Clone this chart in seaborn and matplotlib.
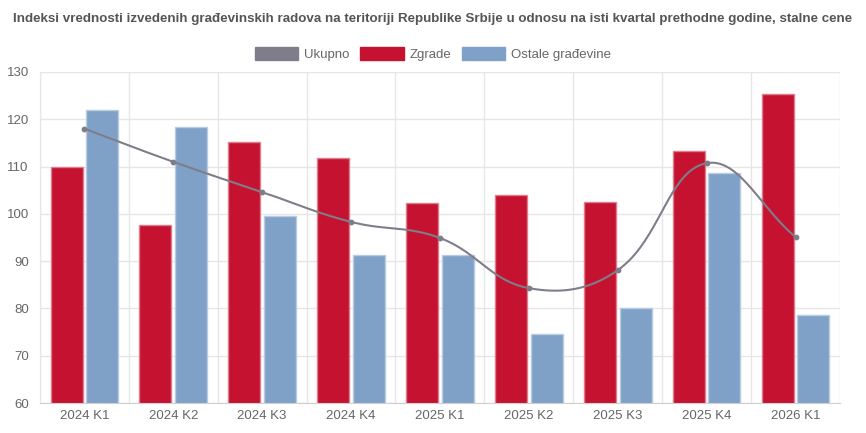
import numpy as np
import pandas as pd
import matplotlib as mpl
mpl.use('Agg')
from matplotlib import pyplot as plt
from matplotlib.ticker import MultipleLocator, FixedLocator
from matplotlib.patches import Patch
from matplotlib.colors import to_rgb
import seaborn as sns

categories = ["2024 K1", "2024 K2", "2024 K3", "2024 K4", "2025 K1",
              "2025 K2", "2025 K3", "2025 K4", "2026 K1"]
ukupno = [118.0, 111.0, 104.6, 98.3, 94.9, 84.3, 88.1, 110.7, 95.1]
zgrade = [110.0, 97.7, 115.2, 111.8, 102.3, 104.0, 102.6, 113.3, 125.3]
ostale = [122.0, 118.3, 99.6, 91.4, 91.2, 74.7, 80.1, 108.7, 78.6]
series_names = ["Ukupno", "Zgrade", "Ostale građevine"]

c_line = "#807D8A"
c_red = "#C41230"
c_blue = "#7FA1C8"
txt = "#666666"
gridc = "#E6E6E6"

sns.set_style("white")
plt.rcParams['font.family'] = ['Liberation Sans', 'DejaVu Sans']

df = pd.DataFrame({
    "kvartal": categories * 2,
    "vrednost": zgrade + ostale,
    "serija": [series_names[1]] * len(categories) + [series_names[2]] * len(categories),
})

fig = plt.figure(figsize=(8.66, 4.33), dpi=100)
ax = fig.add_axes([0.046, 0.069, 0.924, 0.765])

sns.barplot(data=df, x="kvartal", y="vrednost", hue="serija",
            palette=[c_red, c_blue], width=0.8, gap=0.1, ax=ax,
            legend=False, saturation=1, bottom=0)

# lighter outline on the bars
for p in ax.patches:
    fc = np.array(to_rgb(p.get_facecolor()))
    p.set_edgecolor(tuple(fc + (1 - fc) * 0.45))
    p.set_linewidth(1.0)

# smooth line (bezier with tension, like the web chart)
xs = np.arange(len(categories), dtype=float)
ys = np.array(ukupno)
sx, sy = 88.9, 4.73
tension = 0.4
n = len(xs)
cps = []
for i in range(n):
    px, py = (xs[i - 1], ys[i - 1]) if i > 0 else (xs[i], ys[i])
    nx, ny = (xs[i + 1], ys[i + 1]) if i < n - 1 else (xs[i], ys[i])
    d01 = np.hypot((xs[i] - px) * sx, (ys[i] - py) * sy)
    d12 = np.hypot((nx - xs[i]) * sx, (ny - ys[i]) * sy)
    tot = d01 + d12 if d01 + d12 > 0 else 1
    fa = tension * d01 / tot
    fb = tension * d12 / tot
    prev_cp = (xs[i] - fa * (nx - px), ys[i] - fa * (ny - py))
    next_cp = (xs[i] + fb * (nx - px), ys[i] + fb * (ny - py))
    cps.append((prev_cp, next_cp))
cx, cy = [], []
t = np.linspace(0, 1, 40)
for i in range(n - 1):
    p0 = np.array([xs[i], ys[i]])
    p1 = np.array(cps[i][1])
    p2 = np.array(cps[i + 1][0])
    p3 = np.array([xs[i + 1], ys[i + 1]])
    seg = ((1 - t)[:, None] ** 3 * p0 + 3 * ((1 - t) ** 2 * t)[:, None] * p1
           + 3 * ((1 - t) * t ** 2)[:, None] * p2 + (t ** 3)[:, None] * p3)
    cx.extend(seg[:, 0])
    cy.extend(seg[:, 1])
ax.plot(cx, cy, color=c_line, lw=1.5, zorder=5)
ax.scatter(xs, ys, s=10, color=c_line, zorder=6)

ax.set_ylim(60, 130)
ax.set_xlim(-0.5, len(categories) - 0.5)
ax.yaxis.set_major_locator(MultipleLocator(10))
ax.xaxis.set_minor_locator(FixedLocator(np.arange(-0.5, len(categories), 1)))
ax.grid(axis='y', which='major', color=gridc, lw=1)
ax.grid(axis='x', which='minor', color=gridc, lw=1)
ax.set_axisbelow(True)
ax.tick_params(axis='y', which='major', length=6, color=gridc, labelcolor=txt, labelsize=9.5, pad=2)
ax.tick_params(axis='x', which='major', length=0, labelcolor=txt, labelsize=9.5, pad=5)
ax.tick_params(axis='x', which='minor', length=7, color=gridc)
ax.set_xlabel("")
ax.set_ylabel("")
for s in ["top", "right"]:
    ax.spines[s].set_visible(False)
ax.spines["left"].set_color(gridc)
ax.spines["bottom"].set_color("#D0D0D0")

fig.text(0.5, 0.955, "Indeksi vrednosti izvedenih građevinskih radova na teritoriji Republike Srbije "
         "u odnosu na isti kvartal prethodne godine, stalne cene",
         ha='center', va='center', fontsize=9.6, fontweight='bold', color="#555555")

handles = [Patch(facecolor=c_line, edgecolor=c_line),
           Patch(facecolor=c_red, edgecolor=c_red),
           Patch(facecolor=c_blue, edgecolor=c_blue)]
fig.legend(handles, series_names, loc='center', bbox_to_anchor=(0.5, 0.875), ncol=3,
           frameon=False, fontsize=9.5, handlelength=3.3, handleheight=1.1,
           columnspacing=0.8, handletextpad=0.45, labelcolor=txt)

fig.savefig("out.png", dpi=100)
